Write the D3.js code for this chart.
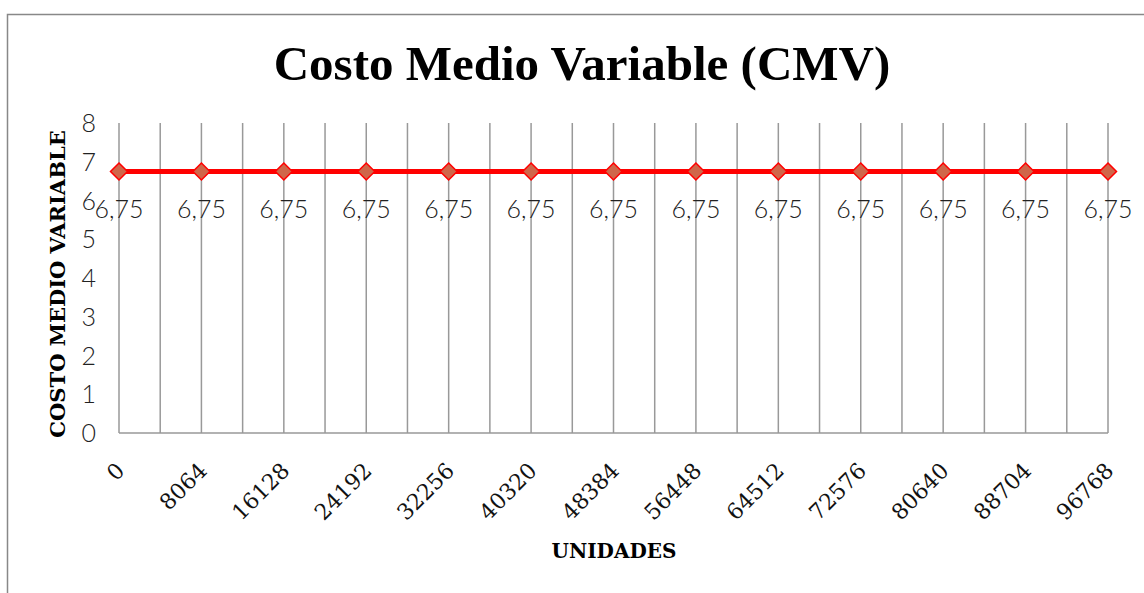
<!DOCTYPE html>
<html>
<head>
<meta charset="utf-8">
<script src="https://cdn.jsdelivr.net/npm/d3@7"></script>
<style>
  body { margin: 0; background: #fff; }
</style>
</head>
<body>
<div id="chart"></div>
<script>
// Data
const unidades = [0, 8064, 16128, 24192, 32256, 40320, 48384, 56448, 64512, 72576, 80640, 88704, 96768];
const cmv = [6.75, 6.75, 6.75, 6.75, 6.75, 6.75, 6.75, 6.75, 6.75, 6.75, 6.75, 6.75, 6.75];
const yTicks = [0, 1, 2, 3, 4, 5, 6, 7, 8];

const width = 1144, height = 593;
const plotLeft = 119, plotRight = 1108, plotTop = 123, plotBottom = 433;

const svg = d3.select("#chart").append("svg")
    .attr("width", width)
    .attr("height", height);

// Outer frame
svg.append("rect")
   .attr("x", 7.5).attr("y", 14.5)
   .attr("width", 1160).attr("height", 600)
   .attr("fill", "none")
   .attr("stroke", "#888")
   .attr("stroke-width", 1.5);

const x = d3.scalePoint().domain(unidades).range([plotLeft, plotRight]);
const y = d3.scaleLinear().domain([0, 8]).range([plotBottom, plotTop]);

// Vertical gridlines: on each category and halfway between
const step = x.step();
const gridX = [];
unidades.forEach((u, i) => {
    gridX.push(x(u));
    if (i < unidades.length - 1) gridX.push(x(u) + step / 2);
});
svg.selectAll(".grid")
   .data(gridX)
   .enter()
   .append("line")
   .attr("x1", d => d).attr("x2", d => d)
   .attr("y1", plotTop).attr("y2", plotBottom)
   .attr("stroke", "#999")
   .attr("stroke-width", 1.5);

// Bottom axis line
svg.append("line")
   .attr("x1", plotLeft).attr("x2", plotRight)
   .attr("y1", plotBottom).attr("y2", plotBottom)
   .attr("stroke", "#999")
   .attr("stroke-width", 1.5);

// Y tick labels
svg.selectAll(".ytick")
   .data(yTicks)
   .enter()
   .append("text")
   .attr("x", 96)
   .attr("y", d => y(d))
   .attr("dy", "0.36em")
   .attr("text-anchor", "end")
   .style("font-family", "Lato")
   .style("font-weight", 300)
   .style("font-size", "25px")
   .style("fill", "#222")
   .text(d => d);

// X tick labels, rotated
svg.selectAll(".xtick")
   .data(unidades)
   .enter()
   .append("text")
   .attr("transform", d => `translate(${x(d) + 7},${472}) rotate(-45)`)
   .attr("text-anchor", "end")
   .style("font-family", "DejaVu Serif")
   .style("font-size", "22px")
   .style("fill", "#111")
   .text(d => d);

// Line
const line = d3.line()
    .x((d, i) => x(unidades[i]))
    .y(d => y(d));
svg.append("path")
   .datum(cmv)
   .attr("d", line)
   .attr("fill", "none")
   .attr("stroke", "#ff0000")
   .attr("stroke-width", 5);

// Diamond markers
svg.selectAll(".marker")
   .data(cmv)
   .enter()
   .append("path")
   .attr("transform", (d, i) => `translate(${x(unidades[i])},${y(d)})`)
   .attr("d", "M0,-8.5 L8.5,0 L0,8.5 L-8.5,0 Z")
   .attr("fill", "#d0664a")
   .attr("stroke", "#ff0000")
   .attr("stroke-width", 1.5);

// Data labels
svg.selectAll(".label")
   .data(cmv)
   .enter()
   .append("text")
   .attr("x", (d, i) => x(unidades[i]))
   .attr("y", d => y(d) + 47)
   .attr("text-anchor", "middle")
   .style("font-family", "Lato")
   .style("font-weight", 300)
   .style("font-size", "25px")
   .style("fill", "#222")
   .text(d => d.toFixed(2).replace(".", ","));

// Title
svg.append("text")
   .attr("x", 582).attr("y", 80)
   .attr("text-anchor", "middle")
   .style("font-family", "Liberation Serif")
   .style("font-weight", "bold")
   .style("font-size", "49px")
   .text("Costo Medio Variable (CMV)");

// Axis titles
svg.append("text")
   .attr("transform", "translate(65,284) rotate(-90)")
   .attr("text-anchor", "middle")
   .style("font-family", "DejaVu Serif")
   .style("font-weight", "bold")
   .style("font-size", "21px")
   .text("COSTO MEDIO VARIABLE");

svg.append("text")
   .attr("x", 614).attr("y", 558)
   .attr("text-anchor", "middle")
   .style("font-family", "DejaVu Serif")
   .style("font-weight", "bold")
   .style("font-size", "20px")
   .text("UNIDADES");
</script>
</body>
</html>
